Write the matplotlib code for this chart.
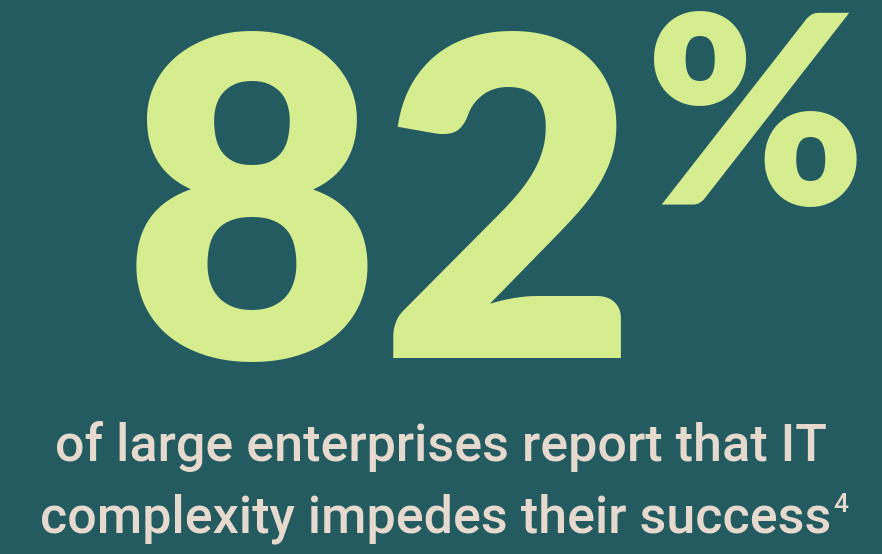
import matplotlib.pyplot as plt
from matplotlib import font_manager

value = 82
unit = '%'
caption = ['of large enterprises report that IT', 'complexity impedes their success']
footnote = '4'

bg = '#235b61'
green = '#d5ec8f'
cream = '#e6d9cd'

names = {f.name for f in font_manager.fontManager.ttflist}
narrow = 'Liberation Sans Narrow' if 'Liberation Sans Narrow' in names else 'Roboto'

fig = plt.figure(figsize=(8.82, 5.54), dpi=100)
fig.patch.set_facecolor(bg)
ax = fig.add_axes([0, 0, 1, 1])
ax.set_xlim(0, 882)
ax.set_ylim(554, 0)
ax.axis('off')

ax.text(380, 358, str(value), ha='center', va='baseline', color=green,
        fontsize=320, family='Lato', fontweight='heavy')
ax.text(645, 205, unit, ha='left', va='baseline', color=green,
        fontsize=190, family='Lato', fontweight='heavy')

ax.text(441, 461, caption[0], ha='center', va='baseline', color=cream,
        fontsize=37.5, family=narrow, fontweight='medium')
t2 = ax.text(436, 533, caption[1], ha='center', va='baseline', color=cream,
             fontsize=37.5, family=narrow, fontweight='medium')

fig.canvas.draw()
bb = t2.get_window_extent().transformed(ax.transData.inverted())
ax.text(bb.x1 + 2, 512, footnote, ha='left', va='baseline', color=cream,
        fontsize=19, family=narrow, fontweight='medium')

fig.savefig('out.png', dpi=100, facecolor=bg)
